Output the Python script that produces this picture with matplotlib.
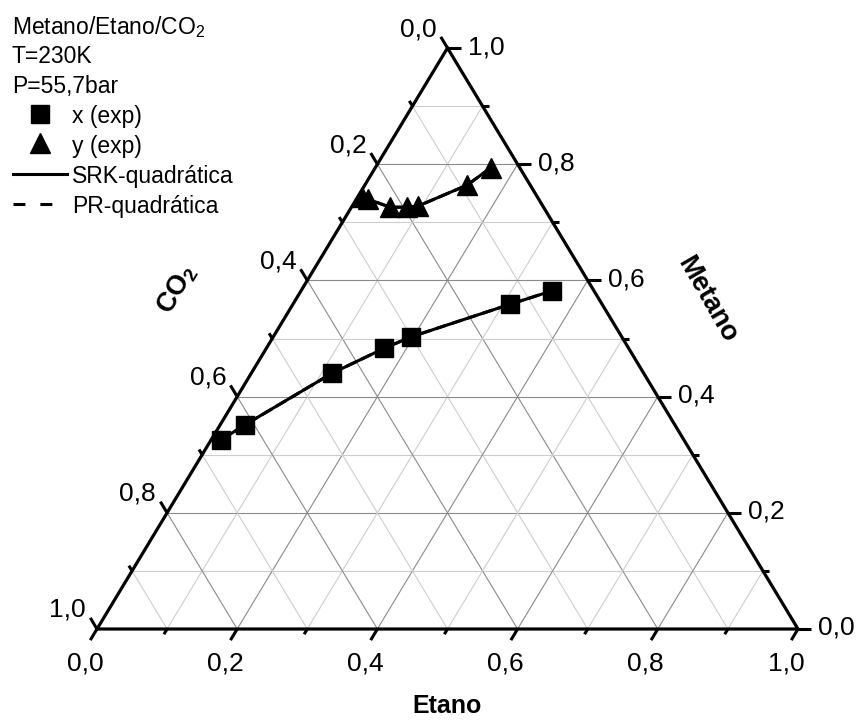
import numpy as np
import matplotlib
matplotlib.use("Agg")
import matplotlib.pyplot as plt
from matplotlib.lines import Line2D

plt.rcParams['font.family'] = ['Liberation Sans', 'DejaVu Sans']
plt.rcParams['mathtext.fontset'] = 'custom'
plt.rcParams['mathtext.rm'] = 'Liberation Sans'
plt.rcParams['mathtext.it'] = 'Liberation Sans:italic'
plt.rcParams['mathtext.bf'] = 'Liberation Sans:bold'

# liquid phase (x) and vapour phase (y), molar fractions
x_metano = [0.325, 0.351, 0.440, 0.483, 0.503, 0.559, 0.582]
x_etano = [0.014, 0.035, 0.115, 0.168, 0.197, 0.310, 0.358]
y_metano = [0.743, 0.740, 0.726, 0.726, 0.728, 0.764, 0.794]
y_etano = [0.006, 0.016, 0.055, 0.079, 0.094, 0.146, 0.165]

tick_values = [0.0, 0.2, 0.4, 0.6, 0.8, 1.0]
header = ['Metano/Etano/CO$_2$', 'T=230K', 'P=55,7bar']
labels = ['x (exp)', 'y (exp)', 'SRK-quadrática', 'PR-quadrática']

W, H = 860, 722


def to_xy(metano, etano):
    m = np.asarray(metano)
    e = np.asarray(etano)
    return e + m / 2, m


def fmt(v):
    return f"{v:.1f}".replace('.', ',')


def px(x, y):
    # pixel position (from top-left) -> figure fraction
    return x / W, 1 - y / H


fig = plt.figure(figsize=(W / 100, H / 100), dpi=100)
ax = fig.add_axes([97 / W, 93 / H, 701 / W, 581 / H])
ax.set_xlim(0, 1)
ax.set_ylim(0, 1)
ax.axis('off')

# grid
for i in range(1, 10):
    v = i / 10
    c = '#8a8a8a' if i % 2 == 0 else '#cdcdcd'
    kw = dict(color=c, lw=0.8, zorder=1)
    ax.plot([v / 2, 1 - v / 2], [v, v], **kw)              # metano
    ax.plot([v, v + (1 - v) / 2], [0, 1 - v], **kw)        # etano
    ax.plot([(1 - v) / 2, 1 - v], [1 - v, 0], **kw)        # CO2

# frame
ax.plot([0, 1, 0.5, 0], [0, 0, 1, 0], color='black', lw=2.3, zorder=3,
        clip_on=False, solid_joinstyle='miter')

# ticks
for i in range(11):
    v = i / 10
    t = 0.0192 if i % 2 == 0 else 0.009
    kw = dict(color='black', lw=2.2, zorder=3, clip_on=False, solid_capstyle='butt')
    ax.plot([v, v - 0.5 * t], [0, -t], **kw)
    xr, yr = 1 - v / 2, v
    ax.plot([xr, xr + 0.968 * t], [yr, yr], **kw)
    xl, yl = (1 - v) / 2, 1 - v
    ax.plot([xl, xl - 0.5 * t], [yl, yl + t], **kw)

for v in tick_values:
    ax.annotate(fmt(v), (v, 0), xytext=(-12, -22), textcoords='offset pixels',
                ha='center', va='top', fontsize=19)
    ax.annotate(fmt(v), (1 - v / 2, v), xytext=(20, 1), textcoords='offset pixels',
                ha='left', va='center', fontsize=19)
    ax.annotate(fmt(v), ((1 - v) / 2, 1 - v), xytext=(-11, 19), textcoords='offset pixels',
                ha='right', va='center', fontsize=19)

# data
xs, ys = to_xy(x_metano, x_etano)
xv, yv = to_xy(y_metano, y_etano)
ax.plot(xs, ys, color='black', lw=2.2, ls='--', zorder=4)
ax.plot(xv, yv, color='black', lw=2.2, ls='--', zorder=4)
ax.plot(xs, ys, color='black', lw=2.2, zorder=5)
ax.plot(xv, yv, color='black', lw=2.2, zorder=5)
ax.plot(xs, ys, ls='none', marker='s', ms=13.5, mfc='black', mec='black', mew=1, zorder=6)
ax.plot(xv, yv, ls='none', marker='^', ms=15, mfc='black', mec='black', mew=1, zorder=6)

# axis titles
fig.text(*px(447, 706), 'Etano', fontsize=18, fontweight='bold',
         ha='center', va='center')
fig.text(*px(707, 300), 'Metano', fontsize=19.5, fontweight='bold',
         ha='center', va='center', rotation=-60, rotation_mode='anchor')
fig.text(*px(177, 289), r'CO$_\mathbf{2}$', fontsize=19.5, fontweight='bold',
         ha='center', va='center', rotation=60, rotation_mode='anchor')

# legend block (drawn by hand, Origin style)
row_y = [24 + 30 * k for k in range(7)]
for k, s in enumerate(header):
    fig.text(*px(12, row_y[k]), s, fontsize=16.5, ha='left', va='center_baseline')

fig.add_artist(Line2D(*zip(px(40, row_y[3])), transform=fig.transFigure, ls='none',
                      marker='s', ms=13.5, color='black'))
fig.add_artist(Line2D(*zip(px(40, row_y[4] - 1)), transform=fig.transFigure, ls='none',
                      marker='^', ms=15, color='black'))
x0, y0 = px(13, row_y[5])
x1, _ = px(67, row_y[5])
fig.add_artist(Line2D([x0, x1], [y0, y0], transform=fig.transFigure, color='black', lw=2.2))
x0, y0 = px(13, row_y[6])
x1, _ = px(52, row_y[6])
fig.add_artist(Line2D([x0, x1], [y0, y0], transform=fig.transFigure, color='black', lw=2.2,
                      ls=(0, (3.9, 4.9)), dash_capstyle='butt'))
for k, s in enumerate(labels):
    fig.text(*px(72, row_y[3 + k]), s, fontsize=16.5, ha='left', va='center_baseline')

fig.savefig('out.png', dpi=100)
